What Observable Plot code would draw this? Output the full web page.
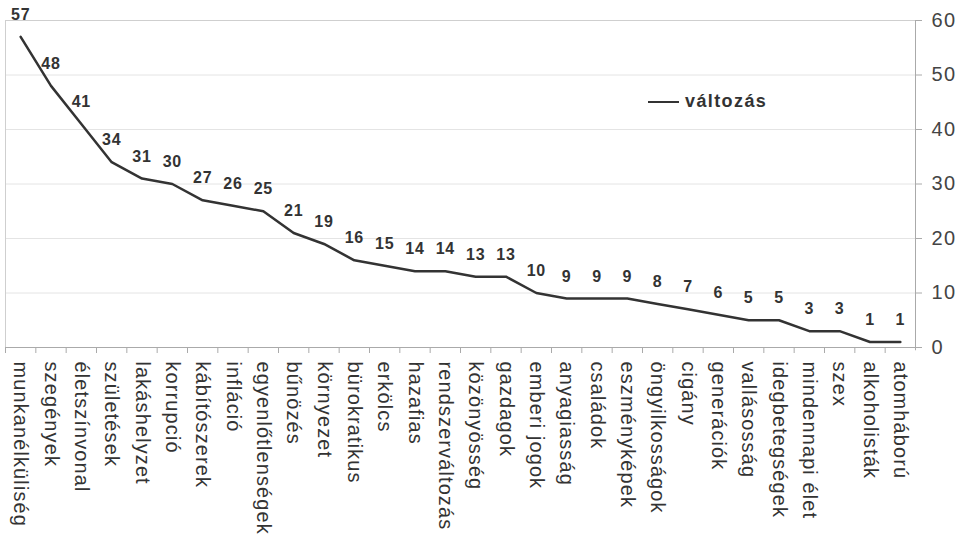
<!DOCTYPE html>
<html><head><meta charset="utf-8">
<script src="https://cdn.jsdelivr.net/npm/d3@7"></script>
<script src="https://cdn.jsdelivr.net/npm/@observablehq/plot@0.6"></script>
<style>
body{margin:0;background:#fff;font-family:Arial,"Liberation Sans",sans-serif}
#wrap{position:relative;width:960px;height:538px;overflow:hidden}
#legend{position:absolute;left:648px;top:91px;display:flex;align-items:center;font-weight:bold;font-size:18px;letter-spacing:1.4px;color:#333}
#legend .sw{display:inline-block;width:31px;height:0;border-top:2.5px solid #333;margin-right:6px}
</style></head><body><div id="wrap"></div>
<script>
const categories = ["munkanélküliség","szegények","életszínvonal","születések","lakáshelyzet","korrupció","kábítószerek","infláció","egyenlőtlenségek","bűnözés","környezet","bürokratikus","erkölcs","hazafias","rendszerváltozás","közönyösség","gazdagok","emberi jogok","anyagiasság","családok","eszményképek","öngyilkosságok","cigány","generációk","vallásosság","idegbetegségek","mindennapi élet","szex","alkoholisták","atomháború"];
const values = [57,48,41,34,31,30,27,26,25,21,19,16,15,14,14,13,13,10,9,9,9,8,7,6,5,5,3,3,1,1];
const yTicks = [0,10,20,30,40,50,60];
const seriesName = "változás";

const data = categories.map((c, i) => ({cat: c, v: values[i]}));
const W = 960, H = 538, mL = 5, mR = 45, mT = 20, mB = 191;
const bw = (W - mL - mR) / categories.length;

const chart = Plot.plot({
  width: W, height: H,
  marginLeft: mL, marginRight: mR, marginTop: mT, marginBottom: mB,
  style: {fontFamily: "Arial, 'Liberation Sans', sans-serif", background: "#fff", color: "#333"},
  x: {type: "band", domain: categories, padding: 0, round: false, label: null},
  y: {domain: [0, 60], label: null},
  marks: [
    Plot.gridY(yTicks, {stroke: "#e4e4e4", strokeOpacity: 1}),
    Plot.ruleY([60], {stroke: "#cfcfcf"}),
    Plot.ruleX([categories[0]], {dx: -bw / 2, stroke: "#cfcfcf"}),
    Plot.ruleX([categories[categories.length - 1]], {dx: bw / 2, stroke: "#aaa", y1: -0.6, y2: 60}),
    Plot.ruleY([0], {stroke: "#aaa"}),
    Plot.axisX({tickSize: 6, tickFormat: () => "", dx: -bw / 2, stroke: "#aaa", label: null}),
    Plot.axisX({tickSize: 0, tickRotate: 90, tickPadding: 14, fontSize: 20, fill: "#333", label: null}),
    Plot.axisY(yTicks, {anchor: "right", tickSize: 6, tickPadding: 10, fontSize: 20, fill: "#444", stroke: "#aaa", label: null}),
    Plot.lineY(data, {x: "cat", y: "v", stroke: "#333", strokeWidth: 2.5}),
    Plot.text(data, {x: "cat", y: "v", text: d => String(d.v), dy: -22, fontWeight: "bold", fontSize: 16, fill: "#333"})
  ]
});
chart.querySelectorAll('[aria-label="x-axis tick label"] text').forEach(t => { t.style.letterSpacing = "1.1px"; });
chart.querySelectorAll('[aria-label="y-axis tick label"] text').forEach(t => { t.style.letterSpacing = "1.5px"; });
chart.querySelectorAll('[aria-label="text"] text').forEach(t => { t.style.letterSpacing = "0.8px"; });
const wrap = document.getElementById("wrap");
wrap.appendChild(chart);
const lg = document.createElement("div");
lg.id = "legend";
lg.innerHTML = `<span class="sw"></span><span>${seriesName}</span>`;
wrap.appendChild(lg);
</script></body></html>
